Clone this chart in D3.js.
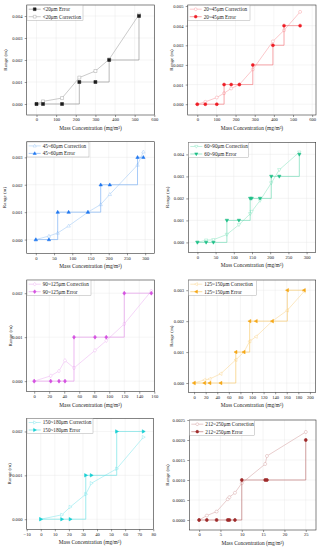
<!DOCTYPE html>
<html>
<head>
<meta charset="utf-8">
<script src="https://cdn.jsdelivr.net/npm/d3@7"></script>
<style>
  html, body { margin: 0; padding: 0; background: #fff; }
  svg { display: block; font-family: "Liberation Serif", "Times New Roman", serif; }
</style>
</head>
<body>
<svg id="chart" width="321" height="550"></svg>
<script>
// particle size groups
var sizeLabels = ["<20μm", "20~45μm", "45~60μm", "60~90μm", "90~125μm", "125~150μm", "150~180μm", "212~250μm"];

// mass concentration (mg/m3), error range (m), corrected range (m)
var conc1 = [0, 33, 130, 218, 300, 370, 522];
var err1  = [0, 0, 0, 0.001, 0.001, 0.002, 0.004];
var cor1  = [0, 0.00012, 0.00027, 0.0012, 0.0015, 0.00203, 0.00406];

var conc2 = [0, 42, 102, 140, 177, 220, 290, 395, 453, 537];
var err2  = [0, 0, 0, 0.001, 0.001, 0.001, 0.002, 0.003, 0.004, 0.004];
var cor2  = [0, 0.00012, 0.00034, 0.00056, 0.0008, 0.001, 0.00177, 0.0032, 0.00376, 0.0047];

var conc3 = [0, 36, 60, 90, 143, 178, 203, 279, 295];
var err3  = [0, 0, 0.001, 0.001, 0.001, 0.002, 0.002, 0.003, 0.003];
var cor3  = [0, 0.00013, 0.00024, 0.0005, 0.001, 0.00128, 0.00165, 0.00272, 0.0032];

var conc4 = [0, 24, 44, 81, 114, 145, 149, 172, 203, 225, 280];
var err4  = [0, 0, 0, 0.001, 0.001, 0.002, 0.002, 0.002, 0.003, 0.003, 0.004];
var cor4  = [0, 0.0001, 0.00012, 0.00036, 0.0008, 0.0013, 0.0014, 0.0019, 0.0027, 0.0033, 0.0041];

var conc5 = [0, 22, 33, 41, 53, 81, 96, 120, 156];
var err5  = [0, 0, 0, 0, 0.001, 0.001, 0.001, 0.002, 0.002];
var cor5  = [0, 0.00012, 0.00023, 0.00047, 0.0003, 0.0007, 0.00092, 0.0013, 0.00205];

var conc6 = [0, 18, 27, 46, 72, 86, 96, 107, 135, 161, 190];
var err6  = [0, 0, 0, 0, 0.001, 0.001, 0.002, 0.002, 0.002, 0.003, 0.003];
var cor6  = [0, 0.0001, 0.00013, 0.0003, 0.00075, 0.001, 0.00135, 0.0015, 0.002, 0.00235, 0.00296];

var conc7 = [0, 15, 21, 32, 36, 54, 73];
var err7  = [0, 0, 0, 0.001, 0.001, 0.002, 0.002];
var cor7  = [0, 0.0001, 0.00028, 0.00057, 0.00082, 0.00115, 0.00187];

var conc8 = [0, 1.8, 4.1, 6.7, 7.1, 8.4, 10, 15.5, 15.9, 25];
var err8  = [0, 0, 0, 0, 0, 0, 0.001, 0.001, 0.001, 0.002];
var cor8  = [0, 0.00011, 0.00021, 0.00052, 0.00057, 0.00068, 0.00092, 0.0014, 0.0016, 0.0022];

// axis ticks
var xTicks1 = [0, 100, 200, 300, 400, 500, 600];
var xTicks3 = [0, 50, 100, 150, 200, 250, 300];
var xTicks5 = [0, 20, 40, 60, 80, 100, 120, 140, 160];
var xTicks6 = [0, 20, 40, 60, 80, 100, 120, 140, 160, 180, 200];
var xTicks7 = [-10, 0, 10, 20, 30, 40, 50, 60, 70, 80];
var xTicks8 = [0, 5, 10, 15, 20, 25];
var yTicks2 = [0, 0.001, 0.002];
var yTicks3 = [0, 0.001, 0.002, 0.003];
var yTicks4 = [0, 0.001, 0.002, 0.003, 0.004];
var yTicks5 = [0, 0.001, 0.002, 0.003, 0.004, 0.005];
var yTicks8 = [0, 0.0005, 0.001, 0.0015, 0.002, 0.0025];

var panels = [
    {conc: conc1, err: err1, cor: cor1, box: [26.7, 5, 154.3, 115], xd: [-50, 600], yd: [-0.0005, 0.0045],
     xt: xTicks1, yt: yTicks4, fmt: ".3f", ec: "#1c1c1c", el: "#8c8c8c", cc: "#a8a8a8", sym: "square", errFirst: true, lw: 56, ytx: 5},
    {conc: conc2, err: err2, cor: cor2, box: [187.7, 5, 316, 115], xd: [-50, 620], yd: [-0.00055, 0.00505],
     xt: xTicks1, yt: yTicks5, fmt: ".3f", ec: "#ee1c25", el: "#f36a70", cc: "#f8a3a8", sym: "circle", errFirst: false, lw: 62, ytx: 171},
    {conc: conc3, err: err3, cor: cor3, box: [26.7, 141.7, 154.3, 253.3], xd: [-25, 325], yd: [-0.0005, 0.00357],
     xt: xTicks3, yt: yTicks3, fmt: ".3f", ec: "#1f77f0", el: "#6aa6f4", cc: "#a6cdf7", sym: "up", errFirst: false, lw: 62, ytx: 4.5},
    {conc: conc4, err: err4, cor: cor4, box: [188.3, 142.3, 315.7, 252.3], xd: [-25, 325], yd: [-0.00045, 0.00455],
     xt: xTicks3, yt: yTicks4, fmt: ".3f", ec: "#1dbf86", el: "#62d6ac", cc: "#97e8c8", sym: "down", errFirst: false, lw: 60, ytx: 167},
    {conc: conc5, err: err5, cor: cor5, box: [26.7, 280, 154.3, 391.7], xd: [-10, 160], yd: [-0.00024, 0.0023],
     xt: xTicks5, yt: yTicks2, fmt: ".3f", ec: "#d451e0", el: "#e28cea", cc: "#eebaf3", sym: "diamond", errFirst: false, lw: 64, ytx: 10},
    {conc: conc6, err: err6, cor: cor6, box: [188.3, 280, 315.7, 392.3], xd: [-10, 210], yd: [-0.0003, 0.00333],
     xt: xTicks6, yt: yTicks3, fmt: ".3f", ec: "#f5a614", el: "#f7c25a", cc: "#fad898", sym: "left", errFirst: false, lw: 68, ytx: 171.5},
    {conc: conc7, err: err7, cor: cor7, box: [26.7, 418.3, 153.3, 529.3], xd: [-10, 80], yd: [-0.00023, 0.0023],
     xt: xTicks7, yt: yTicks2, fmt: ".3f", ec: "#14cfd2", el: "#5cdde0", cc: "#8fe9ee", sym: "right", errFirst: false, lw: 66, ytx: 9.5},
    {conc: conc8, err: err8, cor: cor8, box: [189.3, 420, 316, 530], xd: [-2.3, 27.4], yd: [-0.00025, 0.0025],
     xt: xTicks8, yt: yTicks8, fmt: ".4f", ec: "#9e2a2a", el: "#b86464", cc: "#d8abab", sym: "hex", errFirst: false, lw: 65, ytx: 167}
];

function symbolPath(type, r) {
    switch (type) {
        case "square": return "M" + (-r) + "," + (-r) + "H" + r + "V" + r + "H" + (-r) + "Z";
        case "circle": return "M" + r + ",0A" + r + "," + r + " 0 1,1 " + (-r) + ",0A" + r + "," + r + " 0 1,1 " + r + ",0Z";
        case "up": return "M0," + (-r * 1.2) + "L" + (r * 1.15) + "," + (r * 0.8) + "L" + (-r * 1.15) + "," + (r * 0.8) + "Z";
        case "down": return "M0," + (r * 1.2) + "L" + (r * 1.15) + "," + (-r * 0.8) + "L" + (-r * 1.15) + "," + (-r * 0.8) + "Z";
        case "left": return "M" + (-r * 1.2) + ",0L" + (r * 0.8) + "," + (-r * 1.15) + "L" + (r * 0.8) + "," + (r * 1.15) + "Z";
        case "right": return "M" + (r * 1.2) + ",0L" + (-r * 0.8) + "," + (-r * 1.15) + "L" + (-r * 0.8) + "," + (r * 1.15) + "Z";
        case "diamond": return "M0," + (-r * 1.35) + "L" + r + ",0L0," + (r * 1.35) + "L" + (-r) + ",0Z";
        default:
            var p = d3.range(6).map(function (i) {
                var a = Math.PI / 3 * i;
                return [r * 1.1 * Math.cos(a), r * 1.1 * Math.sin(a)];
            });
            return "M" + p.join("L") + "Z";
    }
}

var svg = d3.select("#chart");
svg.append("rect").attr("width", 321).attr("height", 550).attr("fill", "#fff");

panels.forEach(function (p, k) {
    var l = p.box[0], t = p.box[1], r = p.box[2], b = p.box[3];
    var x = d3.scaleLinear().domain(p.xd).range([l, r]);
    var y = d3.scaleLinear().domain(p.yd).range([b, t]);
    var g = svg.append("g").attr("class", "panel");

    // grid
    g.append("g").selectAll("line").data(p.xt).enter().append("line")
        .attr("x1", function (d) { return x(d); }).attr("x2", function (d) { return x(d); })
        .attr("y1", t).attr("y2", b)
        .attr("stroke", "#e6e6e6").attr("stroke-width", 0.4);
    g.append("g").selectAll("line").data(p.yt).enter().append("line")
        .attr("y1", function (d) { return y(d); }).attr("y2", function (d) { return y(d); })
        .attr("x1", l).attr("x2", r)
        .attr("stroke", "#e6e6e6").attr("stroke-width", 0.4);

    // axes
    var xAxis = g.append("g").attr("transform", "translate(0," + b + ")")
        .call(d3.axisBottom(x).tickValues(p.xt).tickSize(2).tickSizeOuter(0).tickPadding(1).tickFormat(d3.format("d")));
    var yAxis = g.append("g").attr("transform", "translate(" + l + ",0)")
        .call(d3.axisLeft(y).tickValues(p.yt).tickSize(2).tickSizeOuter(0).tickPadding(2.2).tickFormat(d3.format(p.fmt)));
    [xAxis, yAxis].forEach(function (a) {
        a.select(".domain").remove();
        a.selectAll("line").attr("stroke", "#333").attr("stroke-width", 0.5);
        a.selectAll("text").attr("font-family", "Liberation Serif, serif").attr("font-size", 4.6).attr("fill", "#222");
    });
    g.append("rect").attr("x", l).attr("y", t).attr("width", r - l).attr("height", b - t)
        .attr("fill", "none").attr("stroke", "#333").attr("stroke-width", 0.6);

    // axis titles
    g.append("text").attr("x", (l + r) / 2).attr("y", b + 13).attr("dy", "0.35em")
        .attr("text-anchor", "middle").attr("font-size", 5.4).attr("fill", "#222")
        .text("Mass Concentration (mg/m³)");
    g.append("text").attr("transform", "translate(" + p.ytx + "," + ((t + b) / 2) + ") rotate(-90)")
        .attr("dy", "0.35em").attr("text-anchor", "middle").attr("font-size", 5).attr("fill", "#222")
        .text("Range (m)");

    var errPts = p.conc.map(function (c, i) { return [c, p.err[i]]; });
    var corPts = p.conc.map(function (c, i) { return [c, p.cor[i]]; });
    var stepLine = d3.line().curve(d3.curveStepAfter).x(function (d) { return x(d[0]); }).y(function (d) { return y(d[1]); });
    var straight = d3.line().x(function (d) { return x(d[0]); }).y(function (d) { return y(d[1]); });

    var series = [
        {name: sizeLabels[k] + " Error", pts: errPts, line: stepLine, color: p.ec, lineColor: p.el, filled: true},
        {name: sizeLabels[k] + " Correction", pts: corPts, line: straight, color: p.cc, lineColor: p.cc, filled: false}
    ];
    var drawOrder = [series[1], series[0]];
    drawOrder.forEach(function (s) {
        g.append("path").attr("d", s.line(s.pts)).attr("fill", "none")
            .attr("stroke", s.lineColor).attr("stroke-width", 0.6);
        g.append("g").selectAll("path").data(s.pts).enter().append("path")
            .attr("transform", function (d) { return "translate(" + x(d[0]) + "," + y(d[1]) + ")"; })
            .attr("d", symbolPath(p.sym, 1.5))
            .attr("fill", s.filled ? s.color : "#fff")
            .attr("stroke", s.color).attr("stroke-width", 0.5);
    });

    // legend
    var legendItems = p.errFirst ? series : [series[1], series[0]];
    var lg = g.append("g").attr("transform", "translate(" + l + "," + t + ")");
    lg.append("rect").attr("x", 0.3).attr("y", 0.3).attr("width", p.lw).attr("height", 15)
        .attr("fill", "#fff").attr("stroke", "#999").attr("stroke-width", 0.4);
    legendItems.forEach(function (s, i) {
        var yy = 4.2 + i * 7.5;
        lg.append("line").attr("x1", 2).attr("x2", 14).attr("y1", yy).attr("y2", yy)
            .attr("stroke", s.lineColor).attr("stroke-width", 0.6);
        lg.append("path").attr("transform", "translate(8," + yy + ")").attr("d", symbolPath(p.sym, 1.4))
            .attr("fill", s.filled ? s.color : "#fff").attr("stroke", s.color).attr("stroke-width", 0.5);
        lg.append("text").attr("x", 16).attr("y", yy).attr("dy", "0.35em")
            .attr("font-size", 5.2).attr("fill", "#222").text(s.name);
    });
});
</script>
</body>
</html>
